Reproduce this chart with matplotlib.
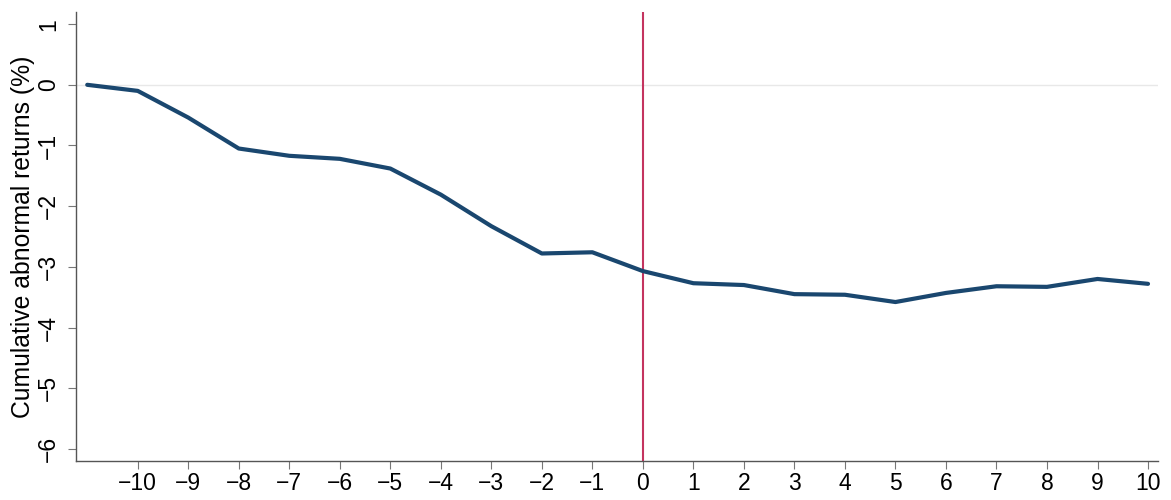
import numpy as np
import matplotlib
matplotlib.use("Agg")
import matplotlib.pyplot as plt

plt.rcParams['font.family'] = ['Liberation Sans', 'DejaVu Sans']

# event window (days) and cumulative abnormal returns (%)
days = [-11, -10, -9, -8, -7, -6, -5, -4, -3, -2, -1, 0, 1, 2, 3, 4, 5, 6, 7, 8, 9, 10]
car = [0.0, -0.10, -0.54, -1.05, -1.17, -1.22, -1.38, -1.81, -2.33, -2.78, -2.76,
       -3.07, -3.27, -3.30, -3.45, -3.46, -3.58, -3.43, -3.32, -3.33, -3.20, -3.28]
xticks = list(range(-10, 11))
yticks = list(range(-6, 2))

fig = plt.figure(figsize=(11.71, 5), dpi=100)
ax = fig.add_axes([0.065, 0.078, 0.924, 0.898])

ax.axhline(0, color='#e8e8e8', lw=1, zorder=1)
ax.axvline(0, color='#c4345f', lw=1.5, zorder=2)
ax.plot(days, car, color='#1a476f', lw=3, solid_capstyle='round', zorder=3)

ax.set_xlim(-11.22, 10.2)
ax.set_ylim(-6.2, 1.2)
ax.set_xticks(xticks)
ax.set_yticks(yticks)
ax.set_xticklabels([str(t).replace('-', '\u2212') for t in xticks])
ax.set_yticklabels([str(t).replace('-', '\u2212') for t in yticks], rotation=90, va='center')

for s in ['top', 'right']:
    ax.spines[s].set_visible(False)
for s in ['left', 'bottom']:
    ax.spines[s].set_color('#555555')
    ax.spines[s].set_linewidth(1)
ax.tick_params(axis='both', direction='out', length=6, color='#777777', labelsize=16.5)
ax.tick_params(axis='y', pad=5.5)
ax.tick_params(axis='x', pad=2)
ax.set_ylabel('Cumulative abnormal returns (%)', fontsize=17.8, labelpad=1.5)

fig.savefig('out.png', dpi=100)
